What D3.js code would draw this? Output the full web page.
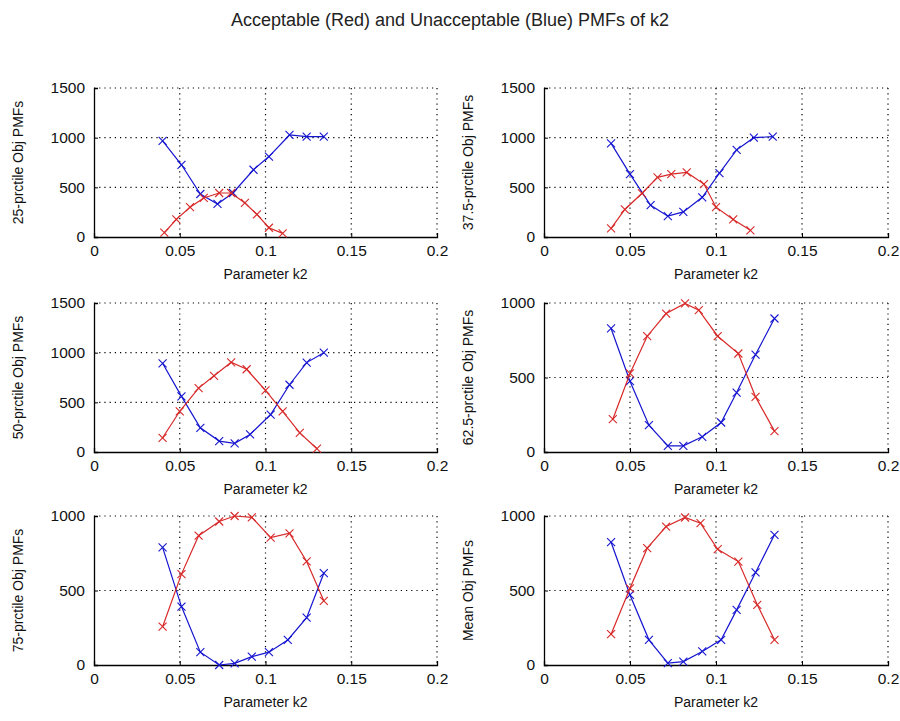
<!DOCTYPE html>
<html><head><meta charset="utf-8">
<script src="https://cdn.jsdelivr.net/npm/d3@7"></script>
<style>body{margin:0;background:#fff;} text{font-family:"Liberation Sans",Arial,sans-serif;}</style>
</head><body><svg id="c" width="900" height="721"></svg>
<script>
const title = "Acceptable (Red) and Unacceptable (Blue) PMFs of k2";
const xLabel = "Parameter k2";
const xTicks = [0, 0.05, 0.1, 0.15, 0.2];
const yTicks1500 = [0, 500, 1000, 1500];
const yTicks1000 = [0, 500, 1000];
const yLabels = ["25-prctile Obj PMFs","37.5-prctile Obj PMFs","50-prctile Obj PMFs","62.5-prctile Obj PMFs","75-prctile Obj PMFs","Mean Obj PMFs"];

// Panel 1: 25-prctile
const p1BlueX = [0.040,0.051,0.062,0.072,0.081,0.093,0.102,0.114,0.124,0.134];
const p1BlueY = [967,727,433,333,443,677,810,1027,1010,1010];
const p1RedX  = [0.041,0.048,0.056,0.064,0.073,0.080,0.088,0.095,0.102,0.110];
const p1RedY  = [43,177,300,393,443,443,343,227,93,37];
// Panel 2: 37.5-prctile
const p2BlueX = [0.039,0.050,0.062,0.072,0.081,0.092,0.102,0.112,0.122,0.133];
const p2BlueY = [943,633,320,210,253,400,643,877,1000,1010];
const p2RedX  = [0.039,0.047,0.057,0.066,0.074,0.083,0.093,0.100,0.110,0.120];
const p2RedY  = [87,277,440,600,633,650,533,300,177,67];
// Panel 3: 50-prctile
const p3BlueX = [0.040,0.051,0.062,0.073,0.082,0.091,0.103,0.114,0.124,0.134];
const p3BlueY = [893,560,243,110,87,177,377,677,900,1000];
const p3RedX  = [0.040,0.050,0.061,0.070,0.080,0.089,0.100,0.110,0.120,0.130];
const p3RedY  = [143,410,643,767,903,833,620,410,193,33];
// Panel 4: 62.5-prctile
const p4BlueX = [0.039,0.050,0.061,0.072,0.081,0.092,0.103,0.112,0.123,0.134];
const p4BlueY = [829,475,180,41,41,102,198,399,654,896];
const p4RedX  = [0.040,0.050,0.060,0.071,0.082,0.090,0.101,0.113,0.123,0.134];
const p4RedY  = [220,527,777,929,997,952,777,661,370,140];
// Panel 5: 75-prctile
const p5BlueX = [0.040,0.051,0.062,0.073,0.082,0.092,0.102,0.113,0.124,0.134];
const p5BlueY = [789,392,86,0,11,56,86,168,318,616];
const p5RedX  = [0.040,0.051,0.061,0.073,0.082,0.092,0.103,0.114,0.124,0.134];
const p5RedY  = [257,610,868,963,1000,991,855,884,695,431];
// Panel 6: Mean
const p6BlueX = [0.039,0.050,0.061,0.072,0.081,0.092,0.103,0.112,0.123,0.134];
const p6BlueY = [824,470,169,12,23,91,169,370,621,874];
const p6RedX  = [0.039,0.050,0.060,0.071,0.082,0.091,0.101,0.113,0.124,0.134];
const p6RedY  = [207,515,784,929,990,952,777,694,404,169];

const panels = [
  {bx:p1BlueX,by:p1BlueY,rx:p1RedX,ry:p1RedY,yt:yTicks1500},
  {bx:p2BlueX,by:p2BlueY,rx:p2RedX,ry:p2RedY,yt:yTicks1500},
  {bx:p3BlueX,by:p3BlueY,rx:p3RedX,ry:p3RedY,yt:yTicks1500},
  {bx:p4BlueX,by:p4BlueY,rx:p4RedX,ry:p4RedY,yt:yTicks1000},
  {bx:p5BlueX,by:p5BlueY,rx:p5RedX,ry:p5RedY,yt:yTicks1000},
  {bx:p6BlueX,by:p6BlueY,rx:p6RedX,ry:p6RedY,yt:yTicks1000}
];

const svg = d3.select("#c");
svg.append("text").attr("x",450).attr("y",26).attr("text-anchor","middle")
  .attr("font-size",18).attr("fill","#222").text(title);

const cols = [[94,437],[544,888]];
const rows = [[88,237],[303,452],[516,665]];
const blue = "#1515d0", red = "#d82828";

panels.forEach((p,i)=>{
  const [x0,x1] = cols[i%2];
  const [y0,y1] = rows[Math.floor(i/2)];
  const x = d3.scaleLinear().domain([0,0.2]).range([x0,x1]);
  const yMax = d3.max(p.yt);
  const y = d3.scaleLinear().domain([0,yMax]).range([y1,y0]);
  const g = svg.append("g");
  xTicks.filter(t=>t>0).forEach(t=>{
    g.append("line").attr("x1",x(t)).attr("x2",x(t)).attr("y1",y0).attr("y2",y1)
      .attr("stroke","#000").attr("stroke-width",1.2).attr("stroke-dasharray","1.2,4");
  });
  p.yt.filter(t=>t>0).forEach(t=>{
    g.append("line").attr("x1",x0).attr("x2",x1).attr("y1",y(t)).attr("y2",y(t))
      .attr("stroke","#000").attr("stroke-width",1.2).attr("stroke-dasharray","1.2,4");
  });
  const xa = g.append("g").attr("transform",`translate(0,${y1})`)
    .call(d3.axisBottom(x).tickValues(xTicks).tickFormat(d=>d===0?"0":String(d)).tickSize(-4).tickPadding(8));
  const ya = g.append("g").attr("transform",`translate(${x0},0)`)
    .call(d3.axisLeft(y).tickValues(p.yt).tickFormat(d3.format("d")).tickSize(-4).tickPadding(9));
  [xa,ya].forEach(a=>{
    a.select(".domain").attr("stroke","#000").attr("stroke-width",1.3);
    a.selectAll("line").attr("stroke","#000");
    a.selectAll("text").attr("font-size",15.5).attr("fill","#111").attr("font-family","'Liberation Sans',Arial,sans-serif");
  });
  g.append("text").attr("x",(x0+x1)/2).attr("y",y1+42).attr("text-anchor","middle")
    .attr("font-size",14).attr("fill","#111").text(xLabel);
  g.append("text").attr("transform",`translate(${x0-71},${(y0+y1)/2}) rotate(-90)`)
    .attr("text-anchor","middle").attr("font-size",14).attr("fill","#111").text(yLabels[i]);
  const line = d3.line().x(d=>x(d[0])).y(d=>y(d[1]));
  [[p.bx,p.by,blue],[p.rx,p.ry,red]].forEach(([xs,ys,col])=>{
    const pts = xs.map((v,k)=>[v,ys[k]]);
    g.append("path").attr("d",line(pts)).attr("fill","none").attr("stroke",col).attr("stroke-width",1.2);
    const s = 4;
    g.selectAll(null).data(pts).enter().append("path")
      .attr("d",d=>{const cx=x(d[0]),cy=y(d[1]);return `M${cx-s},${cy-s}L${cx+s},${cy+s}M${cx-s},${cy+s}L${cx+s},${cy-s}`;})
      .attr("stroke",col).attr("stroke-width",1.1).attr("fill","none");
  });
});
</script></body></html>
